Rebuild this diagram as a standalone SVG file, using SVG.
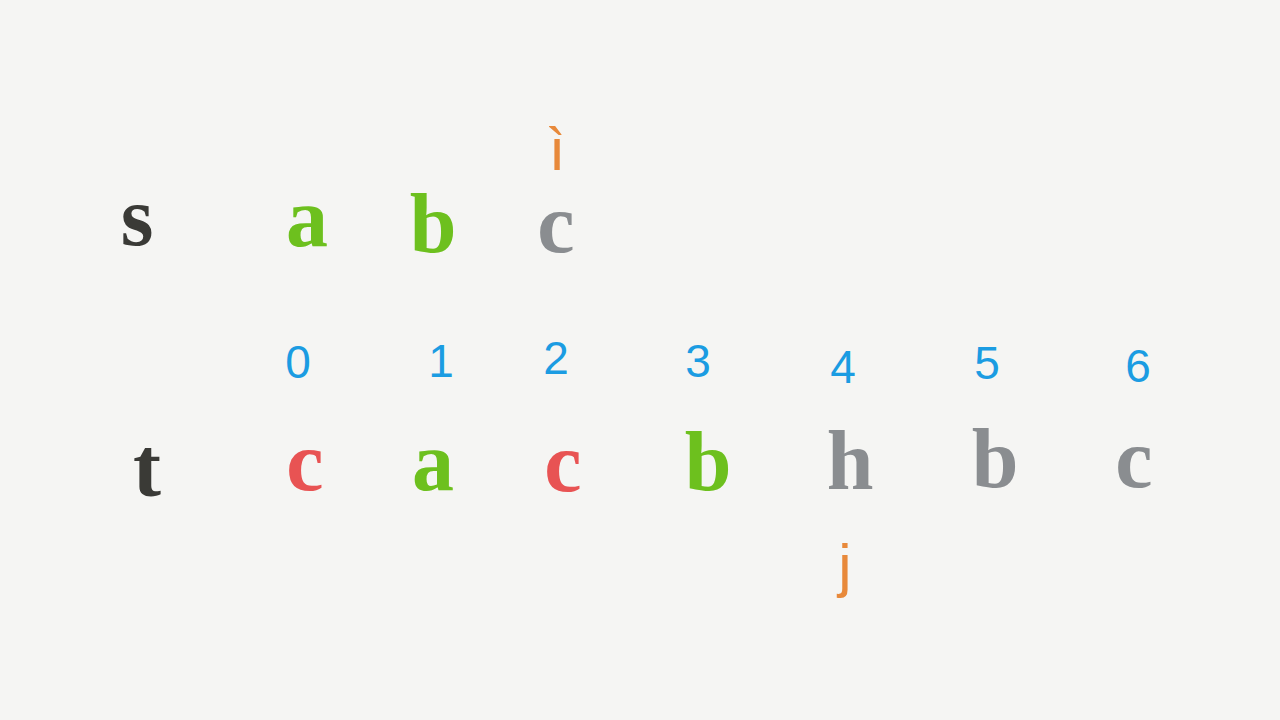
<svg xmlns="http://www.w3.org/2000/svg" width="1280" height="720" viewBox="0 0 1280 720">
<style>
.L{font-family:"Liberation Serif","DejaVu Serif",serif;font-weight:bold;font-size:84px;text-anchor:middle}
.d{font-family:"Liberation Sans","DejaVu Sans",sans-serif;font-size:46px;fill:#1b9ce2;text-anchor:middle}
.o{font-family:"Liberation Sans","DejaVu Sans",sans-serif;font-size:60px;fill:#e8893a;text-anchor:middle}
.k{fill:#3a3a36}.g{fill:#6dc01e}.r{fill:#e85353}.y{fill:#8a8d90}
</style>
<rect width="1280" height="720" fill="#f5f5f3"/>
<g id="s-row">
<text class="L k" x="137" y="245">s</text>
<text class="L g" x="307" y="246">a</text>
<text class="L g" x="433" y="252">b</text>
<text class="L y" x="556" y="252">c</text>
</g>
<g id="i-pointer"><text class="o" x="557" y="170">ì</text></g>
<g id="indices">
<text class="d" x="298" y="378">0</text>
<text class="d" x="441" y="377">1</text>
<text class="d" x="556" y="374">2</text>
<text class="d" x="698" y="377">3</text>
<text class="d" x="843" y="383">4</text>
<text class="d" x="987" y="379">5</text>
<text class="d" x="1138" y="382">6</text>
</g>
<g id="t-row">
<text class="L k" x="147" y="496">t</text>
<text class="L r" x="305" y="490">c</text>
<text class="L g" x="433" y="490">a</text>
<text class="L r" x="563" y="491">c</text>
<text class="L g" x="708" y="490">b</text>
<text class="L y" x="850" y="489">h</text>
<text class="L y" x="995" y="487">b</text>
<text class="L y" x="1134" y="487">c</text>
</g>
<g id="j-pointer"><text class="o" x="845" y="586">j</text></g>
</svg>
